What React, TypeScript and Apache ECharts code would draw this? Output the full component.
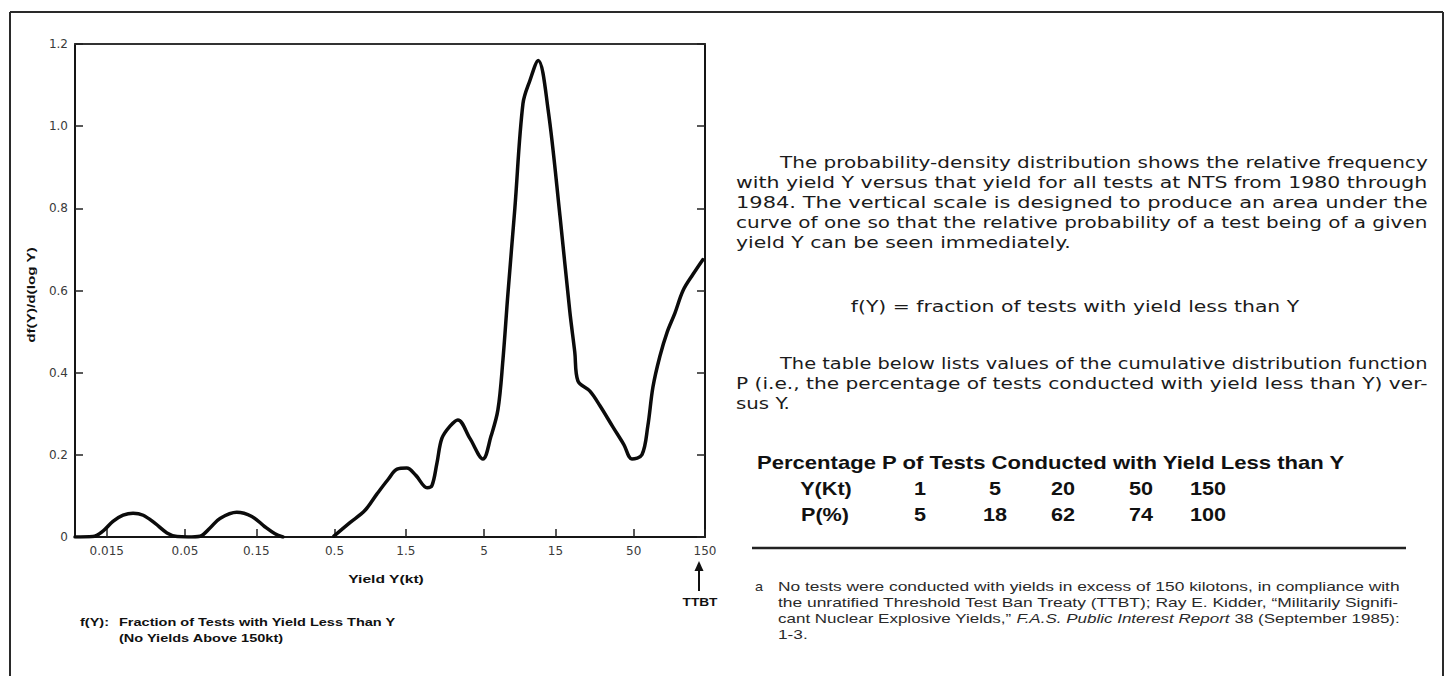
import React, { useEffect, useRef } from "react";
import * as echarts from "echarts";

// ---- data ----
const yieldKt = [
  0.0092, 0.0121, 0.0142, 0.0165, 0.0193, 0.0225, 0.0263, 0.0316, 0.0379, 0.0443,
  0.0524, 0.0631, 0.0735, 0.0857, 0.111, 0.14, 0.171, 0.2, 0.226, 0.33,
  0.495, 0.634, 0.8, 0.962, 1.14, 1.31, 1.52, 1.75, 2.08, 2.24,
  2.42, 2.61, 2.96, 3.34, 4.02, 4.91, 5.56, 6.19, 6.68, 7.21,
  8.03, 9.1, 10.1, 11.5, 13.4, 16.1, 18.7, 20.2, 21.2, 25.5,
  29.7, 36.3, 43.0, 48.7, 56.8, 62.2, 67.3, 74.9, 84, 94.4,
  107, 125, 145,
];
const density = [
  0, 0.001, 0.015, 0.038, 0.053, 0.058, 0.053, 0.033, 0.01, 0.001,
  0, 0.002, 0.022, 0.045, 0.06, 0.05, 0.025, 0.008, 0, null,
  0.002, 0.035, 0.065, 0.105, 0.14, 0.165, 0.168, 0.15, 0.12, 0.125,
  0.18, 0.24, 0.27, 0.285, 0.24, 0.19, 0.245, 0.31, 0.43, 0.59,
  0.8, 1.055, 1.11, 1.16, 1.04, 0.78, 0.55, 0.45, 0.38, 0.355,
  0.32, 0.268, 0.225, 0.19, 0.2, 0.27, 0.365, 0.44, 0.5, 0.545,
  0.6, 0.64, 0.675,
];
const xTickYields = [0.015, 0.05, 0.15, 0.5, 1.5, 5, 15, 50, 150];
const xTickLabels = ["0.015", "0.05", "0.15", "0.5", "1.5", "5", "15", "50", "150"];
const xMinYield = 0.0092;
const xMaxYield = 150;
const yMin = 0;
const yMax = 1.2;
const yInterval = 0.2;

const tableYields = ["1", "5", "20", "50", "150"];
const tablePercents = ["5", "18", "62", "74", "100"];

const para1Lines = [
  "The probability-density distribution shows the relative frequency",
  "with yield Y versus that yield for all tests at NTS from 1980 through",
  "1984. The vertical scale is designed to produce an area under the",
  "curve of one so that the relative probability of a test being of a given",
  "yield Y can be seen immediately.",
];
const equationLine = "f(Y) = fraction of tests with yield less than Y";
const para2Lines = [
  "The table below lists values of the cumulative distribution function",
  "P (i.e., the percentage of tests conducted with yield less than Y) ver-",
  "sus Y.",
];
const tableTitle = "Percentage P of Tests Conducted with Yield Less than Y";
const footnoteLines: [string, boolean][][] = [
  [["No tests were conducted with yields in excess of 150 kilotons, in compliance with", false]],
  [["the unratified Threshold Test Ban Treaty (TTBT); Ray E. Kidder, \u201CMilitarily Signifi-", false]],
  [["cant Nuclear Explosive Yields,\u201D ", false], ["F.A.S. Public Interest Report", true], [" 38 (September 1985):", false]],
  [["1-3.", false]],
];

// ---- text helpers ----
type Font = { size: number; family: string; weight?: string; style?: string; fill?: string };
let measureCtx: CanvasRenderingContext2D | null = null;
function tw(text: string, f: Font) {
  if (!measureCtx) measureCtx = document.createElement("canvas").getContext("2d");
  const ctx = measureCtx!;
  ctx.font = `${f.style || "normal"} ${f.weight || "normal"} ${f.size}px "${f.family}"`;
  return ctx.measureText(text).width;
}
function mkText(text: string, x: number, y: number, scaleX: number, f: Font, align = "left", extra: any = {}) {
  return {
    type: "text",
    x,
    y,
    scaleX,
    silent: true,
    ...extra,
    style: {
      text,
      fontSize: f.size,
      fontFamily: f.family,
      fontWeight: f.weight || "normal",
      fontStyle: f.style || "normal",
      fill: f.fill || "#1b1b1b",
      textAlign: align,
      align,
      textVerticalAlign: "middle",
      verticalAlign: "middle",
    },
  };
}
function paragraph(lines: string[], y0: number, dy: number, left: number, indent: number, right: number, f: Font) {
  const els: any[] = [];
  const scales: number[] = [];
  lines.forEach((t, i) => {
    const x = i === 0 ? indent : left;
    const w = tw(t, f);
    const last = i === lines.length - 1;
    let s: number;
    if (!last) {
      s = (right - x) / w;
      scales.push(s);
    } else {
      s = scales.length ? scales.reduce((a, b) => a + b, 0) / scales.length : 1.2;
    }
    els.push(mkText(t, x, y0 + i * dy, s, f));
  });
  return { els, scale: scales.reduce((a, b) => a + b, 0) / Math.max(1, scales.length) };
}

function buildGraphics() {
  const els: any[] = [];
  const frame = { stroke: "#2a2a2a", lineWidth: 2 };
  els.push({ type: "line", silent: true, shape: { x1: 10, y1: 12, x2: 1443, y2: 12 }, style: frame });
  els.push({ type: "line", silent: true, shape: { x1: 10, y1: 12, x2: 10, y2: 676 }, style: frame });
  els.push({ type: "line", silent: true, shape: { x1: 1443, y1: 12, x2: 1443, y2: 676 }, style: frame });

  // axis names
  const nameFont: Font = { size: 11, family: "Liberation Sans", weight: "bold", fill: "#111" };
  const yName = "df(Y)/d(log Y)";
  els.push(mkText(yName, 31, 295, 96 / tw(yName, nameFont), nameFont, "center", { rotation: Math.PI / 2 }));
  const xName = "Yield Y(kt)";
  els.push(mkText(xName, 386, 579, 76 / tw(xName, nameFont), nameFont, "center"));

  // TTBT arrow
  els.push({ type: "line", silent: true, shape: { x1: 699, y1: 591, x2: 699, y2: 568 }, style: { stroke: "#111", lineWidth: 2 } });
  els.push({ type: "polygon", silent: true, shape: { points: [[694.5, 571], [699, 561], [703.5, 571]] }, style: { fill: "#111" } });
  const ttbtFont: Font = { size: 11, family: "Liberation Sans", weight: "bold", fill: "#111" };
  els.push(mkText("TTBT", 700, 602, 35 / tw("TTBT", ttbtFont), ttbtFont, "center"));

  // caption under the chart
  const capFont: Font = { size: 11, family: "Liberation Sans", weight: "bold", fill: "#111" };
  const cap1 = "Fraction of Tests with Yield Less Than Y";
  const capScale = 277 / tw(cap1, capFont);
  els.push(mkText("f(Y):", 80, 622, capScale, capFont));
  els.push(mkText(cap1, 119, 622, capScale, capFont));
  els.push(mkText("(No Yields Above 150kt)", 119, 638, capScale, capFont));

  // right column text
  const bodyFont: Font = { size: 15, family: "DejaVu Sans", fill: "#1b1b1b" };
  const p1 = paragraph(para1Lines, 163, 20, 736, 780, 1428, bodyFont);
  els.push(...p1.els);
  els.push(mkText(equationLine, 1075, 307, p1.scale, bodyFont, "center"));
  const p2 = paragraph(para2Lines, 364, 20, 736, 780, 1428, bodyFont);
  els.push(...p2.els);

  // table
  const tabFont: Font = { size: 18, family: "Liberation Sans", weight: "bold", fill: "#111" };
  els.push(mkText(tableTitle, 757, 463, 589 / tw(tableTitle, tabFont), tabFont));
  const cellScale = 1.2;
  const colX = [920, 995, 1063, 1141, 1208];
  els.push(mkText("Y(Kt)", 826, 489, cellScale, tabFont, "center"));
  els.push(mkText("P(%)", 825, 515, cellScale, tabFont, "center"));
  tableYields.forEach((v, i) => els.push(mkText(v, colX[i], 489, cellScale, tabFont, "center")));
  tablePercents.forEach((v, i) => els.push(mkText(v, colX[i], 515, cellScale, tabFont, "center")));

  // rule
  els.push({ type: "line", silent: true, shape: { x1: 752, y1: 548, x2: 1406, y2: 548 }, style: { stroke: "#222", lineWidth: 2.5 } });

  // footnote
  const fnFont: Font = { size: 12, family: "Liberation Sans", fill: "#2a2a2a" };
  const fnItal: Font = { ...fnFont, style: "italic" };
  els.push(mkText("a", 755, 587, 1.2, fnFont));
  const fnLeft = 778;
  const fnRight = 1400;
  const fnScales: number[] = [];
  footnoteLines.forEach((segs, i) => {
    const w = segs.reduce((a, [t, it]) => a + tw(t, it ? fnItal : fnFont), 0);
    const last = i === footnoteLines.length - 1;
    let s: number;
    if (!last) {
      s = (fnRight - fnLeft) / w;
      fnScales.push(s);
    } else {
      s = fnScales.reduce((a, b) => a + b, 0) / fnScales.length;
    }
    const rich = segs.map(([t, it]) => `{${it ? "i" : "n"}|${t}}`).join("");
    els.push({
      type: "text",
      x: fnLeft,
      y: 587 + i * 16,
      scaleX: s,
      silent: true,
      style: {
        text: rich,
        fontSize: fnFont.size,
        fontFamily: fnFont.family,
        fill: fnFont.fill,
        textAlign: "left",
        align: "left",
        textVerticalAlign: "middle",
        verticalAlign: "middle",
        rich: {
          n: { fontSize: fnFont.size, fontFamily: fnFont.family, fill: fnFont.fill, color: fnFont.fill },
          i: { fontSize: fnFont.size, fontFamily: fnFont.family, fontStyle: "italic", fill: fnFont.fill, color: fnFont.fill },
        },
      },
    });
  });
  return els;
}

export default function App() {
  const ref = useRef<HTMLDivElement>(null);
  useEffect(() => {
    if (!ref.current) return;
    const chart = echarts.init(ref.current, null, { renderer: "svg" });
    const xMin = Math.log10(xMinYield);
    const xMax = Math.log10(xMaxYield);
    const tickLogs = xTickYields.map((v) => Math.log10(v));
    const labelFor = (v: number) => {
      const i = tickLogs.findIndex((t) => Math.abs(t - v) < 1e-6);
      return i >= 0 ? xTickLabels[i] : "";
    };
    const data = yieldKt.map((y, i) => [Math.log10(y), density[i] === null ? "-" : density[i]]);
    const axisLine = { show: true, onZero: false, lineStyle: { color: "#151515", width: 2 } };
    const labelStyle = { fontFamily: "DejaVu Sans", fontSize: 12, color: "#3a3a3a" };
    const option: any = {
      animation: false,
      backgroundColor: "#ffffff",
      grid: { left: 75, top: 44, width: 630, height: 493, containLabel: false },
      xAxis: [
        {
          type: "value",
          min: xMin,
          max: xMax,
          axisLine,
          axisTick: { show: true, inside: true, length: 8, customValues: tickLogs, lineStyle: { color: "#222", width: 1.5 } },
          axisLabel: { customValues: tickLogs, formatter: labelFor, margin: 8, ...labelStyle },
          splitLine: { show: false },
        },
        {
          type: "value",
          position: "top",
          min: xMin,
          max: xMax,
          axisLine: { show: true, onZero: false, lineStyle: { color: "#333", width: 2 } },
          axisTick: { show: false },
          axisLabel: { show: false },
          splitLine: { show: false },
        },
      ],
      yAxis: [
        {
          type: "value",
          min: yMin,
          max: yMax,
          interval: yInterval,
          axisLine,
          axisTick: { show: true, inside: true, length: 8, lineStyle: { color: "#222", width: 1.5 } },
          axisLabel: { formatter: (v: number) => (v === 0 ? "0" : v.toFixed(1)), margin: 7, ...labelStyle },
          splitLine: { show: false },
        },
        {
          type: "value",
          position: "right",
          min: yMin,
          max: yMax,
          interval: yInterval,
          axisLine,
          axisTick: { show: true, inside: true, length: 8, lineStyle: { color: "#222", width: 1.5 } },
          axisLabel: { show: false },
          splitLine: { show: false },
        },
      ],
      series: [
        {
          type: "line",
          xAxisIndex: 0,
          yAxisIndex: 0,
          data,
          smooth: 0.35,
          symbol: "none",
          showSymbol: false,
          connectNulls: false,
          lineStyle: { color: "#0b0b0b", width: 3.5, cap: "round", join: "round" },
        },
      ],
      graphic: { elements: buildGraphics() },
    };
    chart.setOption(option);
    return () => chart.dispose();
  }, []);
  return <div ref={ref} style={{ position: "absolute", left: 0, top: 0, width: 1453, height: 676 }} />;
}
